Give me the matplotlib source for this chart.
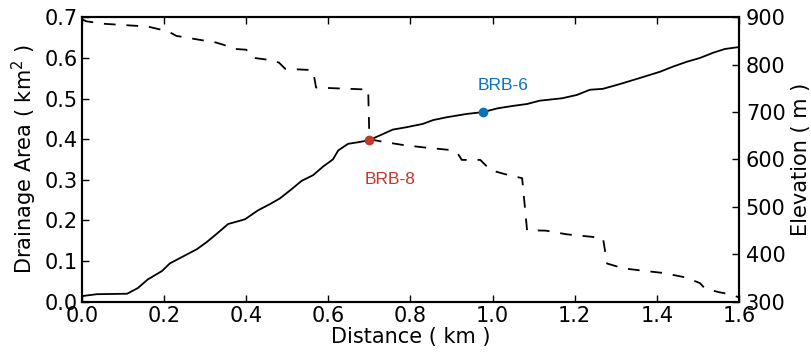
import matplotlib

matplotlib.use("Agg")
import matplotlib.pyplot as plt
from matplotlib.ticker import FormatStrFormatter

# distance along the channel (km) vs. drainage area (km^2), dashed
area_dist = [0.000, 0.010, 0.050, 0.080, 0.160, 0.185, 0.210, 0.230, 0.300, 0.325,
             0.345, 0.370, 0.400, 0.418, 0.440, 0.465, 0.480, 0.495, 0.560, 0.565,
             0.570, 0.620, 0.697, 0.700, 0.730, 0.780, 0.830, 0.900, 0.915, 0.925,
             0.970, 0.995, 1.030, 1.072, 1.084, 1.130, 1.180, 1.240, 1.269, 1.279,
             1.320, 1.370, 1.415, 1.465, 1.495, 1.505, 1.517, 1.550, 1.580, 1.600]
area_km2 = [0.695, 0.690, 0.684, 0.682, 0.677, 0.671, 0.665, 0.654, 0.642, 0.638,
            0.632, 0.622, 0.620, 0.600, 0.597, 0.594, 0.588, 0.573, 0.570, 0.556,
            0.527, 0.525, 0.522, 0.400, 0.394, 0.386, 0.380, 0.373, 0.365, 0.349,
            0.349, 0.324, 0.314, 0.304, 0.176, 0.175, 0.166, 0.160, 0.156, 0.094,
            0.082, 0.076, 0.071, 0.061, 0.050, 0.046, 0.033, 0.024, 0.018, 0.011]

# longitudinal profile: distance (km) vs. elevation (m), solid
elev_dist = [0.000, 0.036, 0.110, 0.136, 0.160, 0.195, 0.214, 0.247, 0.280, 0.304,
             0.329, 0.356, 0.377, 0.397, 0.429, 0.458, 0.482, 0.507, 0.535, 0.563,
             0.587, 0.611, 0.624, 0.648, 0.677, 0.700, 0.726, 0.757, 0.790, 0.830,
             0.855, 0.888, 0.937, 0.977, 1.013, 1.050, 1.084, 1.115, 1.169, 1.205,
             1.237, 1.269, 1.310, 1.352, 1.408, 1.440, 1.473, 1.505, 1.537, 1.566,
             1.600]
elev_m = [312, 316, 317, 329, 347, 365, 381, 396, 411, 426,
          444, 464, 469, 474, 493, 506, 518, 535, 555, 567,
          585, 600, 619, 633, 637, 641, 651, 663, 668, 675,
          683, 689, 696, 700, 708, 713, 717, 724, 729, 736,
          747, 749, 759, 770, 785, 796, 806, 814, 825, 833,
          837]

# sample sites on the profile
site_names = ["BRB-8", "BRB-6"]
site_dist = [0.700, 0.977]
site_elev = [641, 700]
site_colors = ["#c0392b", "#0a72ba"]

plt.rcParams.update({
    "font.family": "DejaVu Sans",
    "font.size": 15,
    "axes.linewidth": 1.5,
    "xtick.direction": "in",
    "ytick.direction": "in",
    "xtick.major.size": 5,
    "ytick.major.size": 5,
    "xtick.major.width": 1,
    "ytick.major.width": 1,
})

fig = plt.figure(figsize=(8.12, 3.58), dpi=100)
ax = fig.add_axes([0.101, 0.157, 0.809, 0.795])
ax2 = ax.twinx()

ax.plot(area_dist, area_km2, color="black", lw=1.3, linestyle=(0, (6.5, 6.0)))
ax2.plot(elev_dist, elev_m, color="black", lw=1.3)

for d, e, c in zip(site_dist, site_elev, site_colors):
    ax2.plot(d, e, "o", color=c, ms=6, zorder=5)

ax2.text(0.75, 557, site_names[0], color=site_colors[0], ha="center", va="center",
         fontsize=12.5, family="Liberation Sans")
ax2.text(1.025, 757, site_names[1], color=site_colors[1], ha="center", va="center",
         fontsize=12.5, family="Liberation Sans")

ax.set_xlim(0, 1.6)
ax.set_ylim(0, 0.7)
ax2.set_ylim(300, 900)
ax.set_xticks([0.0, 0.2, 0.4, 0.6, 0.8, 1.0, 1.2, 1.4, 1.6])
ax.set_yticks([0.0, 0.1, 0.2, 0.3, 0.4, 0.5, 0.6, 0.7])
ax2.set_yticks([300, 400, 500, 600, 700, 800, 900])
ax.xaxis.set_major_formatter(FormatStrFormatter("%.1f"))
ax.yaxis.set_major_formatter(FormatStrFormatter("%.1f"))
ax.tick_params(axis="x", top=True, pad=3)
ax.tick_params(axis="y", pad=3)
ax2.tick_params(axis="y", pad=5)

ax.set_xlabel("Distance ( km )", labelpad=1)
ax.set_ylabel("Drainage Area ( km$^2$ )", labelpad=4)
ax2.set_ylabel("Elevation ( m )", labelpad=4)

fig.savefig("out.png", dpi=100)
